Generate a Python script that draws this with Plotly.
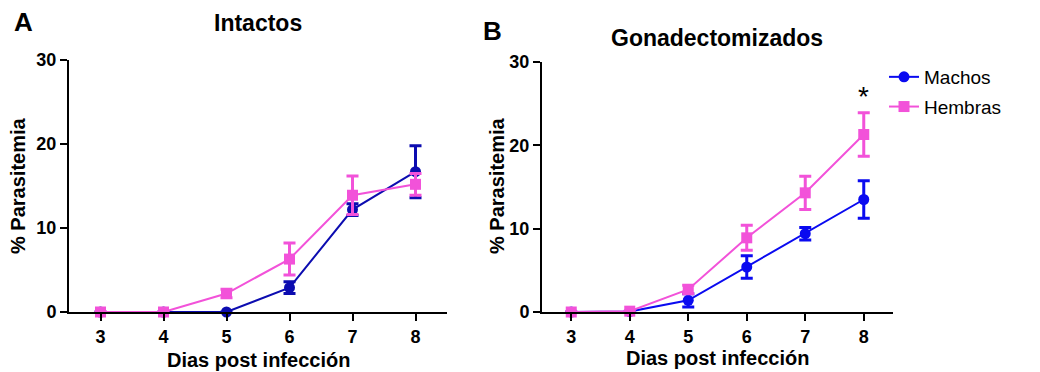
import plotly.graph_objects as go

dias = [3, 4, 5, 6, 7, 8]

# Panel A: Intactos
a_machos = [0, 0, 0, 2.9, 12.2, 16.7]
a_machos_err = [0, 0, 0, 0.7, 0.7, 3.1]
a_hembras = [0, 0, 2.2, 6.3, 13.9, 15.2]
a_hembras_err = [0, 0, 0.5, 1.9, 2.3, 1.3]

# Panel B: Gonadectomizados
b_machos = [0, 0.05, 1.4, 5.4, 9.4, 13.5]
b_machos_err = [0, 0, 0.8, 1.35, 0.75, 2.25]
b_hembras = [0, 0.1, 2.7, 8.9, 14.3, 21.3]
b_hembras_err = [0, 0, 0.5, 1.5, 2.0, 2.6]

FONT = "Liberation Sans, Arial, sans-serif"
BLUE_A = "#0C0CB0"
BLUE_B = "#0A0AF0"
PINK = "#F252D9"

fig = go.Figure()

def add(x, y, err, color, symbol, name, xa, ya, show, group):
    fig.add_trace(go.Scatter(
        x=x, y=y, mode="lines+markers", name=name,
        xaxis=xa, yaxis=ya, showlegend=show, legendgroup=group,
        line=dict(color=color, width=2),
        marker=dict(color=color, symbol=symbol, size=11),
        error_y=dict(type="data", array=err, visible=True, color=color,
                     thickness=3, width=6),
        cliponaxis=False,
    ))

add(dias, a_machos, a_machos_err, BLUE_A, "circle", "Machos", "x", "y", False, "m")
add(dias, a_hembras, a_hembras_err, PINK, "square", "Hembras", "x", "y", False, "h")
add(dias, b_machos, b_machos_err, BLUE_B, "circle", "Machos", "x2", "y2", True, "m")
add(dias, b_hembras, b_hembras_err, PINK, "square", "Hembras", "x2", "y2", True, "h")

W, H = 1040, 372
axis_common = dict(
    showline=True, linecolor="black", linewidth=2,
    ticks="outside", ticklen=7, tickwidth=2, tickcolor="black",
    showgrid=False, zeroline=False, automargin=False,
    tickfont=dict(family=FONT, size=18, color="black", weight="bold"),
)

fig.update_layout(
    width=W, height=H,
    margin=dict(l=0, r=0, t=0, b=0, pad=0, autoexpand=False),
    paper_bgcolor="white", plot_bgcolor="white",
    font=dict(family=FONT, color="black"),
    xaxis=dict(domain=[69 / W, 447 / W], range=[2.5, 8.5], tickvals=dias,
               anchor="y", **axis_common),
    yaxis=dict(domain=[60 / H, 312 / H], range=[0, 30], tickvals=[0, 10, 20, 30],
               anchor="x", **axis_common),
    xaxis2=dict(domain=[542 / W, 893 / W], range=[2.5, 8.5], tickvals=dias,
                anchor="y2", **axis_common),
    yaxis2=dict(domain=[60 / H, 310 / H], range=[0, 30], tickvals=[0, 10, 20, 30],
                anchor="x2", **axis_common),
    showlegend=True,
    legend=dict(x=884 / W, xanchor="left", y=(H - 58) / H, yanchor="top",
                font=dict(family=FONT, size=19, color="black"),
                tracegroupgap=2, bgcolor="rgba(0,0,0,0)"),
)

bold = dict(family=FONT, color="black", weight="bold")
ann = [
    dict(text="A", x=23 / W, y=(H - 22) / H, size=26),
    dict(text="B", x=492 / W, y=(H - 31) / H, size=26),
    dict(text="Intactos", x=258 / W, y=(H - 23) / H, size=23),
    dict(text="Gonadectomizados", x=717 / W, y=(H - 38) / H, size=23),
    dict(text="Dias post infección", x=258 / W, y=(H - 360) / H, size=20),
    dict(text="Dias post infección", x=717 / W, y=(H - 358) / H, size=20),
]
for a in ann:
    fig.add_annotation(text=a["text"], x=a["x"], y=a["y"], xref="paper", yref="paper",
                       showarrow=False, xanchor="center", yanchor="middle",
                       font=dict(size=a["size"], **bold))
for xp in [18, 497]:
    fig.add_annotation(text="% Parasitemia", x=xp / W, y=(H - 186) / H,
                       xref="paper", yref="paper", showarrow=False, textangle=-90,
                       xanchor="center", yanchor="middle", font=dict(size=20, **bold))
fig.add_annotation(text="*", x=8, y=b_hembras[-1] + b_hembras_err[-1], xref="x2", yref="y2",
                   yshift=16, showarrow=False, font=dict(size=28, family=FONT, color="black"))

fig.write_html("out.html")
